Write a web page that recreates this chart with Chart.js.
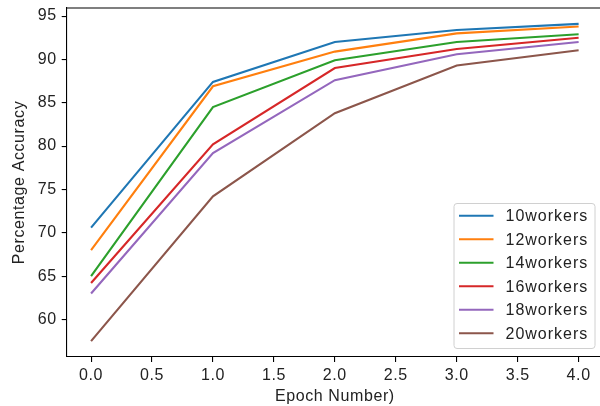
<!DOCTYPE html>
<html>
<head>
<meta charset="utf-8">
<script src="https://cdn.jsdelivr.net/npm/chart.js@4/dist/chart.umd.min.js"></script>
<style>
  html, body { margin: 0; padding: 0; background: #fff; }
  body { width: 600px; height: 406px; overflow: hidden; }
  #wrap { width: 600px; height: 406px; overflow: hidden; }
  canvas { display: block; }
</style>
</head>
<body>
<div id="wrap"><canvas id="accChart" width="630" height="406"></canvas></div>
<script>
// Data
const epochs = [0, 1, 2, 3, 4];
const seriesLabels = ['10workers', '12workers', '14workers', '16workers', '18workers', '20workers'];
const acc10 = [70.6, 87.4, 92.0, 93.4, 94.1];
const acc12 = [68.0, 86.9, 90.9, 93.0, 93.8];
const acc14 = [65.0, 84.5, 89.9, 92.0, 92.9];
const acc16 = [64.2, 80.2, 89.0, 91.2, 92.5];
const acc18 = [63.0, 79.2, 87.6, 90.6, 92.0];
const acc20 = [57.5, 74.2, 83.8, 89.3, 91.05];
const xTicks = [0, 0.5, 1, 1.5, 2, 2.5, 3, 3.5, 4];
const yTicks = [60, 65, 70, 75, 80, 85, 90, 95];

const colors = ['#1f77b4', '#ff7f0e', '#2ca02c', '#d62728', '#9467bd', '#8c564b'];
const allSeries = [acc10, acc12, acc14, acc16, acc18, acc20];
const FONT = 'Liberation Sans, Arial, sans-serif';
const SPACING = '0.6px';

const datasets = allSeries.map((vals, i) => ({
    label: seriesLabels[i],
    data: epochs.map((e, j) => ({ x: e, y: vals[j] })),
    borderColor: colors[i],
    backgroundColor: colors[i],
    borderWidth: 2.1,
    pointRadius: 0,
    tension: 0,
    fill: false
}));

// letter spacing for all canvas text
const spacingPlugin = {
    id: 'spacing',
    beforeUpdate(chart) { chart.ctx.letterSpacing = SPACING; },
    beforeDraw(chart) { chart.ctx.letterSpacing = SPACING; }
};

// top spine (right one falls outside the picture) + legend inside the axes
const framePlugin = {
    id: 'frame',
    afterDatasetsDraw(chart) {
        const ctx = chart.ctx;
        const a = chart.chartArea;
        ctx.save();
        ctx.strokeStyle = '#000';
        ctx.lineWidth = 1.1;
        ctx.beginPath();
        ctx.moveTo(a.left, a.top);
        ctx.lineTo(a.right, a.top);
        ctx.stroke();

        // legend
        const bx = 454, by = 203.5, bw = 141, bh = 145;
        ctx.beginPath();
        ctx.roundRect(bx, by, bw, bh, 3);
        ctx.fillStyle = 'rgba(255,255,255,0.85)';
        ctx.fill();
        ctx.strokeStyle = '#d0d0d0';
        ctx.lineWidth = 1;
        ctx.stroke();
        ctx.font = '16px ' + FONT;
        ctx.letterSpacing = '1px';
        ctx.textBaseline = 'middle';
        ctx.textAlign = 'left';
        chart.data.datasets.forEach((ds, i) => {
            const y = 215.7 + i * 23.5;
            ctx.beginPath();
            ctx.moveTo(459, y);
            ctx.lineTo(493.5, y);
            ctx.strokeStyle = ds.borderColor;
            ctx.lineWidth = 2.1;
            ctx.stroke();
            ctx.fillStyle = '#222';
            ctx.fillText(ds.label, 505.5, y + 1);
        });
        ctx.restore();
    }
};

const ctx = document.getElementById('accChart').getContext('2d');
new Chart(ctx, {
    type: 'line',
    data: { datasets: datasets },
    options: {
        responsive: false,
        animation: false,
        layout: { padding: { top: 8, left: 0, right: 27, bottom: 0 } },
        plugins: {
            legend: { display: false },
            tooltip: { enabled: false }
        },
        scales: {
            x: {
                type: 'linear',
                min: -0.2,
                max: 4.2,
                afterBuildTicks: scale => { scale.ticks = xTicks.map(v => ({ value: v })); },
                afterFit: scale => {
                    scale.height = 49;
                    scale.paddingLeft = 0;
                    scale.paddingRight = 0;
                },
                ticks: {
                    callback: v => v.toFixed(1),
                    color: '#222',
                    font: { family: FONT, size: 16 },
                    padding: 4,
                    maxRotation: 0
                },
                grid: { display: true, drawOnChartArea: false, drawTicks: true, tickLength: 5, color: '#000', lineWidth: 1.1 },
                border: { display: true, color: '#000', width: 1.1 },
                title: {
                    display: true,
                    text: 'Epoch Number)',
                    color: '#222',
                    font: { family: FONT, size: 16 },
                    padding: { top: 0, bottom: 0 }
                }
            },
            y: {
                type: 'linear',
                min: 55.67,
                max: 95.93,
                afterBuildTicks: scale => { scale.ticks = yTicks.map(v => ({ value: v })); },
                afterFit: scale => {
                    scale.width = 66.7;
                    scale.paddingTop = 0;
                    scale.paddingBottom = 0;
                },
                ticks: {
                    color: '#222',
                    font: { family: FONT, size: 16 },
                    padding: 5
                },
                grid: { display: true, drawOnChartArea: false, drawTicks: true, tickLength: 5, color: '#000', lineWidth: 1.1 },
                border: { display: true, color: '#000', width: 1.1 },
                title: {
                    display: true,
                    text: 'Percentage Accuracy',
                    color: '#222',
                    font: { family: FONT, size: 16 },
                    padding: { top: 10, bottom: 0 }
                }
            }
        }
    },
    plugins: [spacingPlugin, framePlugin]
});
</script>
</body>
</html>
